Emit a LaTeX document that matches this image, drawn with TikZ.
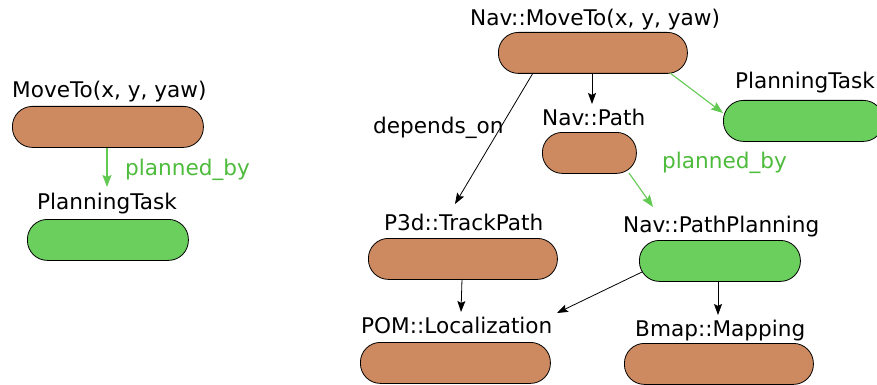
\documentclass[tikz,border=0pt]{standalone}
\usepackage{fontspec}
\setmainfont{DejaVu Sans}
\usetikzlibrary{arrows.meta}
\definecolor{pillbrown}{HTML}{CD8A60}
\definecolor{pillgreen}{HTML}{6BCF5D}
\definecolor{arrgreen}{HTML}{62C952}
\definecolor{labgreen}{HTML}{4DBB3B}
\tikzset{
  pill/.style={draw=black, line width=0.8pt, rounded corners=20pt, inner sep=0pt, anchor=north west},
  brownpill/.style={pill, fill=pillbrown},
  greenpill/.style={pill, fill=pillgreen},
  lab/.style={anchor=base west, inner sep=0pt, font=\fontsize{21.6}{25}\selectfont},
  greenlab/.style={lab, text=labgreen},
  blackarr/.style={-{Stealth[length=11pt,width=8pt,inset=2pt]}, line width=0.8pt, black},
  greenarr/.style={-{Stealth[length=12pt,width=9pt,inset=2pt]}, line width=1.1pt, arrgreen}
}
\begin{document}
\begin{tikzpicture}[x=1pt,y=-1pt]
\useasboundingbox (0,0) rectangle (877,385);
% left graph
\node[brownpill, minimum width=191pt, minimum height=41pt] (lmove) at (12,106) {};
\node[lab] (lmovel) at (12,98) {MoveTo(x, y, yaw)};
\node[greenpill, minimum width=161pt, minimum height=41pt] (lplan) at (27,219) {};
\node[lab] (lplanl) at (37,209) {PlanningTask};
\coordinate (lplanin) at (107,187);
\draw[greenarr] (lmove.south -| lplanin) -- (lplanin);
\node[greenlab] (lpb) at (125,175) {planned\_by};
% right graph
\node[brownpill, minimum width=189pt, minimum height=41pt] (nmove) at (498,32) {};
\node[lab] (nmovel) at (470,26) {Nav::MoveTo(x, y, yaw)};
\node[greenpill, minimum width=160pt, minimum height=41pt] (rplan) at (723,100) {};
\node[lab] (rplanl) at (735,89) {PlanningTask};
\node[brownpill, minimum width=94pt, minimum height=41pt] (path) at (542,132) {};
\node[lab] (pathl) at (542,125) {Nav::Path};
\node[lab] (dep) at (373,133) {depends\_on};
\node[greenlab] (rpb) at (662,168) {planned\_by};
\node[brownpill, minimum width=189pt, minimum height=41pt] (track) at (368,238) {};
\node[lab] (trackl) at (384,230) {P3d::TrackPath};
\node[greenpill, minimum width=161pt, minimum height=41pt] (pplan) at (639,240) {};
\node[lab] (pplanl) at (623,232) {Nav::PathPlanning};
\node[brownpill, minimum width=190pt, minimum height=41pt] (loc) at (360,342) {};
\node[lab] (locl) at (361,333) {POM::Localization};
\node[brownpill, minimum width=189pt, minimum height=41pt] (map) at (624,343) {};
\node[lab] (mapl) at (635,336) {Bmap::Mapping};
% connector ends
\coordinate (depS) at (533,73);
\coordinate (depE) at (455,204);
\coordinate (pathS) at (592,73);
\coordinate (pathE) at (592,104);
\coordinate (rpS) at (670,73);
\coordinate (rpE) at (723,113);
\coordinate (ppS) at (629,173);
\coordinate (ppE) at (653,207);
\coordinate (trS) at (462,279);
\coordinate (trE) at (461,312);
\coordinate (plS) at (642,272);
\coordinate (plE) at (557,313);
\coordinate (pmS) at (718,281);
\coordinate (pmE) at (718,315);
\draw[blackarr] (depS) -- (depE);
\draw[blackarr] (pathS) -- (pathE);
\draw[greenarr] (rpS) -- (rpE);
\draw[greenarr] (ppS) -- (ppE);
\draw[blackarr] (trS) -- (trE);
\draw[blackarr] (plS) -- (plE);
\draw[blackarr] (pmS) -- (pmE);
\end{tikzpicture}
\end{document}
